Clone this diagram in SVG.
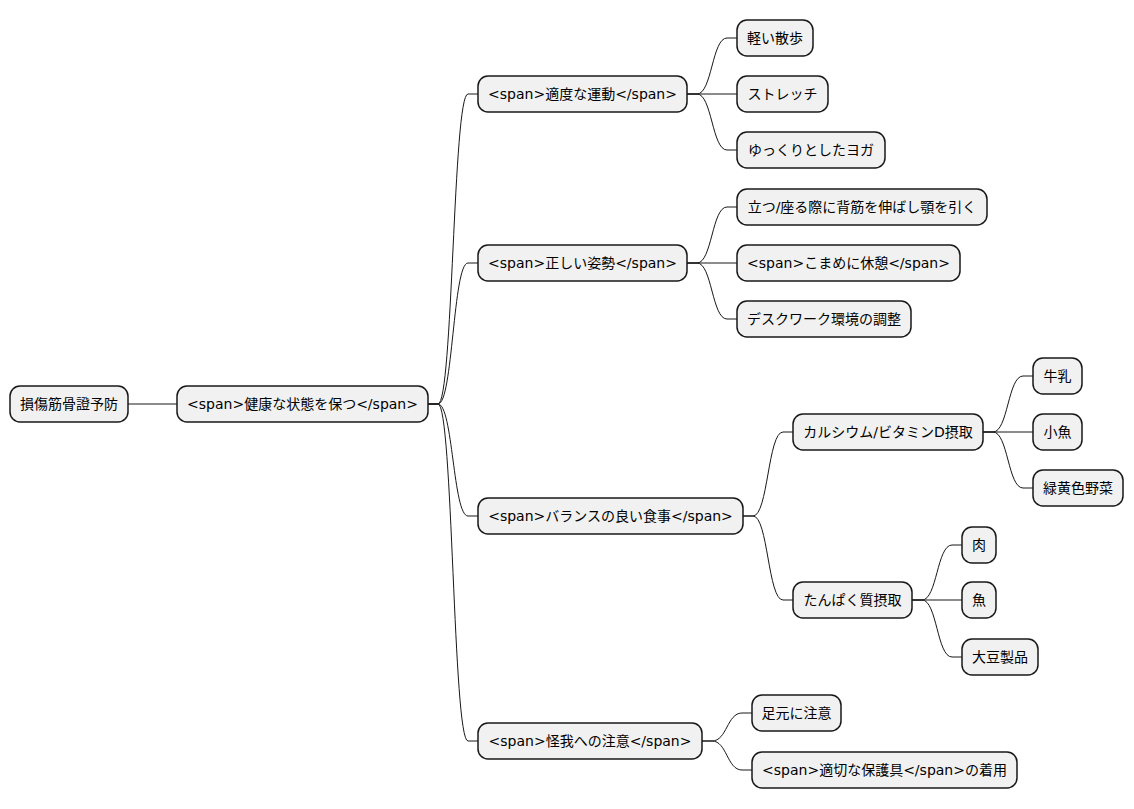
<svg xmlns="http://www.w3.org/2000/svg" width="1134" height="809" viewBox="0 0 1134 809">
<style>
.n rect{fill:#f1f1f1;stroke:#181818;stroke-width:1.5}
.n text{font-family:"DejaVu Sans","Noto Sans CJK JP",sans-serif;font-size:14px;fill:#000;text-anchor:middle}
.c path{fill:none;stroke:#181818;stroke-width:1}
</style>
<rect width="1134" height="809" fill="#fff"/>
<g class="c">
<path d="M128,404 H177"/>
<path d="M428,404 H438 C453,404 453,94 468,94 H478"/>
<path d="M428,404 H438 C453,404 453,263 468,263 H478"/>
<path d="M428,404 H438 C453,404 453,516 468,516 H478"/>
<path d="M428,404 H438 C453,404 453,741 468,741 H478"/>
<path d="M687,94 H697 C712,94 712,38 727,38 H737"/>
<path d="M687,94 H737"/>
<path d="M687,94 H697 C712,94 712,150 727,150 H737"/>
<path d="M687,263 H697 C712,263 712,207 727,207 H737"/>
<path d="M687,263 H737"/>
<path d="M687,263 H697 C712,263 712,319 727,319 H737"/>
<path d="M743,516 H753 C768,516 768,432 783,432 H793"/>
<path d="M743,516 H753 C768,516 768,600 783,600 H793"/>
<path d="M983,432 H993 C1008,432 1008,376 1023,376 H1033"/>
<path d="M983,432 H1033"/>
<path d="M983,432 H993 C1008,432 1008,488 1023,488 H1033"/>
<path d="M912,600 H922 C937,600 937,545 952,545 H962"/>
<path d="M912,600 H962"/>
<path d="M912,600 H922 C937,600 937,657 952,657 H962"/>
<path d="M702,741 H712 C727,741 727,713 742,713 H752"/>
<path d="M702,741 H712 C727,741 727,770 742,770 H752"/>
</g>
<g id="root" class="n"><rect x="10" y="386" width="118" height="36" rx="10"/><text x="69" y="409">損傷筋骨證予防</text></g>
<g id="n1" class="n"><rect x="177" y="386" width="251" height="36" rx="10"/><text x="302.5" y="409">&lt;span&gt;健康な状態を保つ&lt;/span&gt;</text></g>
<g id="a" class="n"><rect x="478" y="76" width="209" height="36" rx="10"/><text x="582.5" y="99">&lt;span&gt;適度な運動&lt;/span&gt;</text></g>
<g id="a1" class="n"><rect x="737" y="20" width="76" height="36" rx="10"/><text x="775" y="43">軽い散歩</text></g>
<g id="a2" class="n"><rect x="737" y="76" width="91" height="36" rx="10"/><text x="782.5" y="99">ストレッチ</text></g>
<g id="a3" class="n"><rect x="737" y="132" width="148" height="36" rx="10"/><text x="811" y="155">ゆっくりとしたヨガ</text></g>
<g id="b" class="n"><rect x="478" y="245" width="209" height="36" rx="10"/><text x="582.5" y="268">&lt;span&gt;正しい姿勢&lt;/span&gt;</text></g>
<g id="b1" class="n"><rect x="737" y="189" width="250" height="36" rx="10"/><text x="862" y="212">立つ/座る際に背筋を伸ばし顎を引く</text></g>
<g id="b2" class="n"><rect x="737" y="245" width="223" height="36" rx="10"/><text x="848.5" y="268">&lt;span&gt;こまめに休憩&lt;/span&gt;</text></g>
<g id="b3" class="n"><rect x="737" y="301" width="174" height="36" rx="10"/><text x="824" y="324">デスクワーク環境の調整</text></g>
<g id="c" class="n"><rect x="478" y="498" width="265" height="36" rx="10"/><text x="610.5" y="521">&lt;span&gt;バランスの良い食事&lt;/span&gt;</text></g>
<g id="c1" class="n"><rect x="793" y="414" width="190" height="36" rx="10"/><text x="888" y="437">カルシウム/ビタミンD摂取</text></g>
<g id="c1a" class="n"><rect x="1033" y="358" width="49" height="36" rx="10"/><text x="1057.5" y="381">牛乳</text></g>
<g id="c1b" class="n"><rect x="1033" y="414" width="49" height="36" rx="10"/><text x="1057.5" y="437">小魚</text></g>
<g id="c1c" class="n"><rect x="1033" y="470" width="90" height="36" rx="10"/><text x="1078" y="493">緑黄色野菜</text></g>
<g id="c2" class="n"><rect x="793" y="582" width="119" height="36" rx="10"/><text x="852.5" y="605">たんぱく質摂取</text></g>
<g id="c2a" class="n"><rect x="962" y="527" width="34" height="36" rx="10"/><text x="979" y="550">肉</text></g>
<g id="c2b" class="n"><rect x="962" y="582" width="34" height="36" rx="10"/><text x="979" y="605">魚</text></g>
<g id="c2c" class="n"><rect x="962" y="639" width="76" height="36" rx="10"/><text x="1000" y="662">大豆製品</text></g>
<g id="d" class="n"><rect x="478" y="723" width="224" height="36" rx="10"/><text x="590" y="746">&lt;span&gt;怪我への注意&lt;/span&gt;</text></g>
<g id="d1" class="n"><rect x="752" y="695" width="89" height="36" rx="10"/><text x="796.5" y="718">足元に注意</text></g>
<g id="d2" class="n"><rect x="752" y="752" width="265" height="36" rx="10"/><text x="884.5" y="775">&lt;span&gt;適切な保護具&lt;/span&gt;の着用</text></g>
</svg>
